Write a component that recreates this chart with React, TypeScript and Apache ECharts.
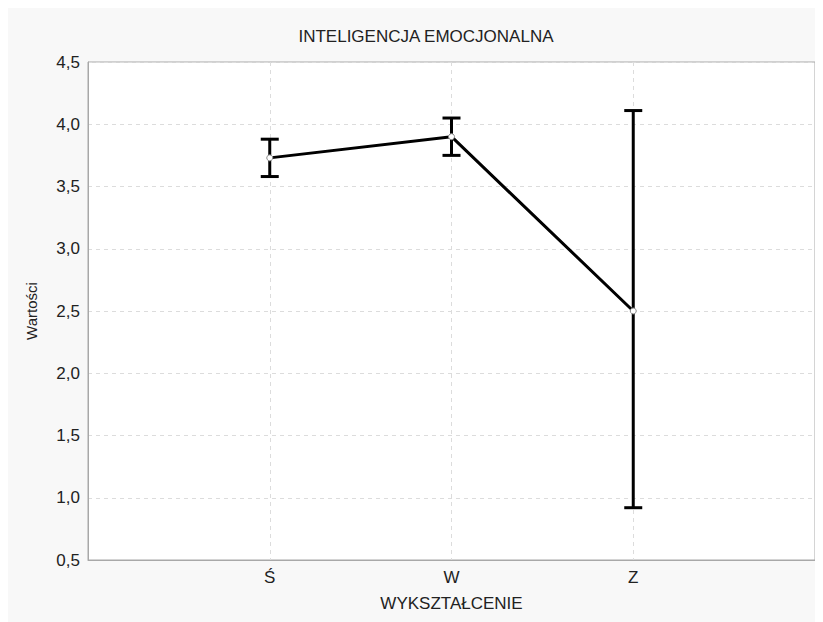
import React, { useEffect, useRef } from "react";
import * as echarts from "echarts";

const categories = ["Ś", "W", "Z"];
const means = [3.73, 3.9, 2.5];
const lower = [3.58, 3.75, 0.92];
const upper = [3.88, 4.05, 4.11];
const yTicks = [0.5, 1.0, 1.5, 2.0, 2.5, 3.0, 3.5, 4.0, 4.5];

const FONT = "'Liberation Sans', Arial, sans-serif";

export default function App() {
  const ref = useRef<HTMLDivElement>(null);
  useEffect(() => {
    if (!ref.current) return;
    const chart = echarts.init(ref.current, null, { renderer: "svg" });
    const lineData = means.map((m, i) => [i + 1, m]);
    const errData = categories.map((_, i) => [i + 1, lower[i], upper[i]]);
    chart.setOption({
      animation: false,
      backgroundColor: "#f8f8f8",
      textStyle: { fontFamily: FONT },
      title: {
        text: "INTELIGENCJA EMOCJONALNA",
        left: 413,
        textAlign: "center",
        top: 15,
        textStyle: { fontFamily: FONT, fontSize: 17, fontWeight: "normal", color: "#222" },
      },
      grid: {
        left: 80,
        right: 8,
        top: 54,
        bottom: 62,
        show: true,
        backgroundColor: "#ffffff",
        borderColor: "#a8a8a8",
        borderWidth: 1,
      },
      xAxis: {
        type: "value",
        min: 0,
        max: 4,
        interval: 1,
        name: "WYKSZTAŁCENIE",
        nameLocation: "middle",
        nameGap: 35,
        nameTextStyle: { fontFamily: FONT, fontSize: 17, color: "#222" },
        axisLine: { lineStyle: { color: "#a8a8a8" } },
        axisTick: { show: false },
        axisLabel: {
          fontFamily: FONT,
          fontSize: 17,
          color: "#222",
          margin: 9,
          formatter: (v: number) => (v >= 1 && v <= categories.length ? categories[v - 1] : ""),
        },
        splitLine: { show: true, lineStyle: { color: "#dcdcdc", type: [4, 4] } },
      },
      yAxis: {
        type: "value",
        min: yTicks[0],
        max: yTicks[yTicks.length - 1],
        interval: 0.5,
        name: "Wartości",
        nameLocation: "middle",
        nameGap: 49,
        nameTextStyle: { fontFamily: FONT, fontSize: 15, color: "#222" },
        axisLine: { show: true, lineStyle: { color: "#a8a8a8" } },
        axisTick: { show: false },
        axisLabel: {
          fontFamily: FONT,
          fontSize: 17,
          color: "#222",
          margin: 8,
          formatter: (v: number) => v.toFixed(1).replace(".", ","),
        },
        splitLine: { show: true, lineStyle: { color: "#dcdcdc", type: [4, 4] } },
      },
      series: [
        {
          type: "custom",
          data: errData,
          encode: { x: 0, y: [1, 2] },
          z: 2,
          renderItem: (params: any, api: any) => {
            const x = api.value(0);
            const lo = api.coord([x, api.value(1)]);
            const hi = api.coord([x, api.value(2)]);
            const hw = 9;
            const style = { stroke: "#000", lineWidth: 3, fill: "none" };
            return {
              type: "group",
              children: [
                { type: "line", shape: { x1: lo[0], y1: lo[1], x2: hi[0], y2: hi[1] }, style },
                { type: "line", shape: { x1: hi[0] - hw, y1: hi[1], x2: hi[0] + hw, y2: hi[1] }, style },
                { type: "line", shape: { x1: lo[0] - hw, y1: lo[1], x2: lo[0] + hw, y2: lo[1] }, style },
              ],
            };
          },
        },
        {
          type: "line",
          data: lineData,
          z: 3,
          lineStyle: { color: "#000", width: 3 },
          symbol: "circle",
          symbolSize: 6,
          itemStyle: { color: "#ffffff", borderColor: "#888", borderWidth: 1 },
        },
      ],
    });
    return () => chart.dispose();
  }, []);
  return <div ref={ref} style={{ width: 815, height: 614 }} />;
}
